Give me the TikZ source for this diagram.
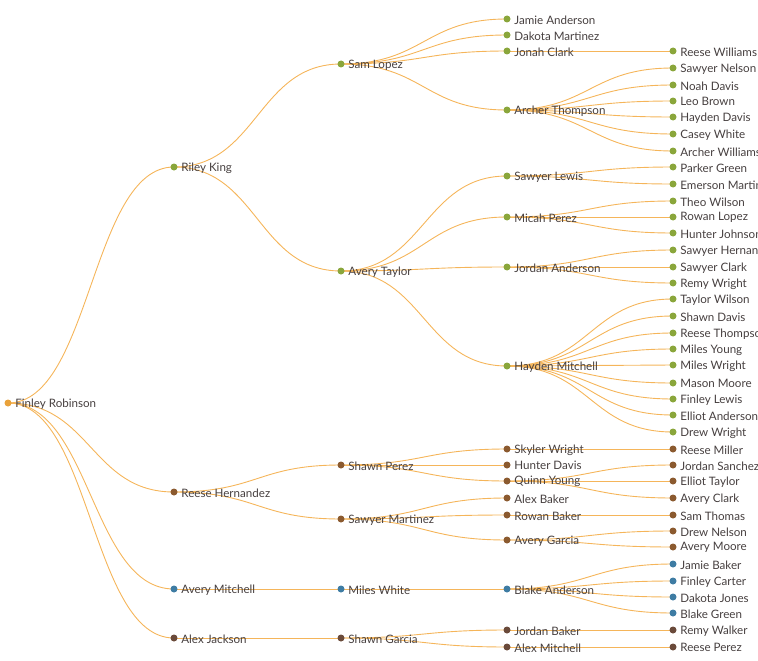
\documentclass[tikz,border=0pt]{standalone}
\usepackage{fontspec}
\setmainfont{Lato}
\usetikzlibrary{calc,backgrounds}

\definecolor{linkc}{HTML}{F5B55A}
\definecolor{rootc}{HTML}{E9A23B}
\definecolor{greenc}{HTML}{8AA63B}
\definecolor{brownc}{HTML}{8B5A2F}
\definecolor{bluec}{HTML}{3E7CA3}
\definecolor{darkc}{HTML}{6A4A3A}
\definecolor{textc}{HTML}{463F3F}

\tikzset{
  dot/.style={circle, fill=#1, inner sep=0pt, minimum size=7pt},
  lbl/.style={text=textc, font=\fontsize{11.6}{13}\selectfont, inner sep=1pt,
    label distance=2.5pt, yshift=-0.8pt},
  link/.style={draw=linkc, line width=0.9pt}
}

\begin{document}
\begin{tikzpicture}[x=1pt, y=-1pt]
\useasboundingbox (0,0) rectangle (758,661);

% Root
\node[dot=rootc, label={[lbl]right:Finley Robinson}] (FinleyRobinson) at (8,403) {};

% Level 1
\node[dot=greenc, label={[lbl]right:Riley King}] (RileyKing) at (174,167) {};
\node[dot=brownc, label={[lbl]right:Reese Hernandez}] (ReeseHernandez) at (174,492) {};
\node[dot=bluec, label={[lbl]right:Avery Mitchell}] (AveryMitchell) at (174,589) {};
\node[dot=darkc, label={[lbl]right:Alex Jackson}] (AlexJackson) at (174,638) {};

% Level 2
\node[dot=greenc, label={[lbl]right:Sam Lopez}] (SamLopez) at (341,64) {};
\node[dot=greenc, label={[lbl]right:Avery Taylor}] (AveryTaylor) at (341,271) {};
\node[dot=brownc, label={[lbl]right:Shawn Perez}] (ShawnPerez) at (341,465) {};
\node[dot=brownc, label={[lbl]right:Sawyer Martinez}] (SawyerMartinez) at (341,519) {};
\node[dot=bluec, label={[lbl]right:Miles White}] (MilesWhite) at (341,589) {};
\node[dot=darkc, label={[lbl]right:Shawn Garcia}] (ShawnGarcia) at (341,638) {};

% Level 3
\node[dot=greenc, label={[lbl]right:Jamie Anderson}] (JamieAnderson) at (507,19) {};
\node[dot=greenc, label={[lbl]right:Dakota Martinez}] (DakotaMartinez) at (507,35) {};
\node[dot=greenc, label={[lbl]right:Jonah Clark}] (JonahClark) at (507,51) {};
\node[dot=greenc, label={[lbl]right:Archer Thompson}] (ArcherThompson) at (507,110) {};
\node[dot=greenc, label={[lbl]right:Sawyer Lewis}] (SawyerLewis) at (507,176) {};
\node[dot=greenc, label={[lbl]right:Micah Perez}] (MicahPerez) at (507,217) {};
\node[dot=greenc, label={[lbl]right:Jordan Anderson}] (JordanAnderson) at (507,267) {};
\node[dot=greenc, label={[lbl]right:Hayden Mitchell}] (HaydenMitchell) at (507,366) {};
\node[dot=brownc, label={[lbl]right:Skyler Wright}] (SkylerWright) at (507,449) {};
\node[dot=brownc, label={[lbl]right:Hunter Davis}] (HunterDavis) at (507,465) {};
\node[dot=brownc, label={[lbl]right:Quinn Young}] (QuinnYoung) at (507,481) {};
\node[dot=brownc, label={[lbl]right:Alex Baker}] (AlexBaker) at (507,498) {};
\node[dot=brownc, label={[lbl]right:Rowan Baker}] (RowanBaker) at (507,515) {};
\node[dot=brownc, label={[lbl]right:Avery Garcia}] (AveryGarcia) at (507,540) {};
\node[dot=bluec, label={[lbl]right:Blake Anderson}] (BlakeAnderson) at (507,589) {};
\node[dot=darkc, label={[lbl]right:Jordan Baker}] (JordanBaker) at (507,630) {};
\node[dot=darkc, label={[lbl]right:Alex Mitchell}] (AlexMitchell) at (507,647) {};

% Level 4
\node[dot=greenc, label={[lbl]right:Reese Williams}] (ReeseWilliams) at (673,51) {};
\node[dot=greenc, label={[lbl]right:Sawyer Nelson}] (SawyerNelson) at (673,68) {};
\node[dot=greenc, label={[lbl]right:Noah Davis}] (NoahDavis) at (673,85) {};
\node[dot=greenc, label={[lbl]right:Leo Brown}] (LeoBrown) at (673,101) {};
\node[dot=greenc, label={[lbl]right:Hayden Davis}] (HaydenDavis) at (673,117) {};
\node[dot=greenc, label={[lbl]right:Casey White}] (CaseyWhite) at (673,134) {};
\node[dot=greenc, label={[lbl]right:Archer Williams}] (ArcherWilliams) at (673,151) {};
\node[dot=greenc, label={[lbl]right:Parker Green}] (ParkerGreen) at (673,167) {};
\node[dot=greenc, label={[lbl]right:Emerson Martin}] (EmersonMartin) at (673,184) {};
\node[dot=greenc, label={[lbl]right:Theo Wilson}] (TheoWilson) at (673,201) {};
\node[dot=greenc, label={[lbl]right:Rowan Lopez}] (RowanLopez) at (673,217) {};
\node[dot=greenc, label={[lbl]right:Hunter Johnson}] (HunterJohnson) at (673,233) {};
\node[dot=greenc, label={[lbl]right:Sawyer Hernandez}] (SawyerHernandez) at (673,250) {};
\node[dot=greenc, label={[lbl]right:Sawyer Clark}] (SawyerClark) at (673,267) {};
\node[dot=greenc, label={[lbl]right:Remy Wright}] (RemyWright) at (673,283) {};
\node[dot=greenc, label={[lbl]right:Taylor Wilson}] (TaylorWilson) at (673,299) {};
\node[dot=greenc, label={[lbl]right:Shawn Davis}] (ShawnDavis) at (673,316) {};
\node[dot=greenc, label={[lbl]right:Reese Thompson}] (ReeseThompson) at (673,333) {};
\node[dot=greenc, label={[lbl]right:Miles Young}] (MilesYoung) at (673,349) {};
\node[dot=greenc, label={[lbl]right:Miles Wright}] (MilesWright) at (673,365) {};
\node[dot=greenc, label={[lbl]right:Mason Moore}] (MasonMoore) at (673,383) {};
\node[dot=greenc, label={[lbl]right:Finley Lewis}] (FinleyLewis) at (673,399) {};
\node[dot=greenc, label={[lbl]right:Elliot Anderson}] (ElliotAnderson) at (673,415) {};
\node[dot=greenc, label={[lbl]right:Drew Wright}] (DrewWright) at (673,432) {};
\node[dot=brownc, label={[lbl]right:Reese Miller}] (ReeseMiller) at (673,449) {};
\node[dot=brownc, label={[lbl]right:Jordan Sanchez}] (JordanSanchez) at (673,465) {};
\node[dot=brownc, label={[lbl]right:Elliot Taylor}] (ElliotTaylor) at (673,481) {};
\node[dot=brownc, label={[lbl]right:Avery Clark}] (AveryClark) at (673,498) {};
\node[dot=brownc, label={[lbl]right:Sam Thomas}] (SamThomas) at (673,515) {};
\node[dot=brownc, label={[lbl]right:Drew Nelson}] (DrewNelson) at (673,531) {};
\node[dot=brownc, label={[lbl]right:Avery Moore}] (AveryMoore) at (673,547) {};
\node[dot=bluec, label={[lbl]right:Jamie Baker}] (JamieBaker) at (673,564) {};
\node[dot=bluec, label={[lbl]right:Finley Carter}] (FinleyCarter) at (673,581) {};
\node[dot=bluec, label={[lbl]right:Dakota Jones}] (DakotaJones) at (673,597) {};
\node[dot=bluec, label={[lbl]right:Blake Green}] (BlakeGreen) at (673,613) {};
\node[dot=darkc, label={[lbl]right:Remy Walker}] (RemyWalker) at (673,630) {};
\node[dot=darkc, label={[lbl]right:Reese Perez}] (ReesePerez) at (673,647) {};

% Links
\begin{scope}[on background layer]
\foreach \p/\c in {
  FinleyRobinson/RileyKing, FinleyRobinson/ReeseHernandez,
  FinleyRobinson/AveryMitchell, FinleyRobinson/AlexJackson,
  RileyKing/SamLopez, RileyKing/AveryTaylor,
  ReeseHernandez/ShawnPerez, ReeseHernandez/SawyerMartinez,
  AveryMitchell/MilesWhite, AlexJackson/ShawnGarcia,
  SamLopez/JamieAnderson, SamLopez/DakotaMartinez,
  SamLopez/JonahClark, SamLopez/ArcherThompson,
  AveryTaylor/SawyerLewis, AveryTaylor/MicahPerez,
  AveryTaylor/JordanAnderson, AveryTaylor/HaydenMitchell,
  ShawnPerez/SkylerWright, ShawnPerez/HunterDavis, ShawnPerez/QuinnYoung,
  SawyerMartinez/AlexBaker, SawyerMartinez/RowanBaker, SawyerMartinez/AveryGarcia,
  MilesWhite/BlakeAnderson,
  ShawnGarcia/JordanBaker, ShawnGarcia/AlexMitchell,
  JonahClark/ReeseWilliams,
  ArcherThompson/SawyerNelson, ArcherThompson/NoahDavis, ArcherThompson/LeoBrown,
  ArcherThompson/HaydenDavis, ArcherThompson/CaseyWhite, ArcherThompson/ArcherWilliams,
  SawyerLewis/ParkerGreen, SawyerLewis/EmersonMartin,
  MicahPerez/TheoWilson, MicahPerez/RowanLopez, MicahPerez/HunterJohnson,
  JordanAnderson/SawyerHernandez, JordanAnderson/SawyerClark, JordanAnderson/RemyWright,
  HaydenMitchell/TaylorWilson, HaydenMitchell/ShawnDavis, HaydenMitchell/ReeseThompson,
  HaydenMitchell/MilesYoung, HaydenMitchell/MilesWright, HaydenMitchell/MasonMoore,
  HaydenMitchell/FinleyLewis, HaydenMitchell/ElliotAnderson, HaydenMitchell/DrewWright,
  SkylerWright/ReeseMiller,
  QuinnYoung/JordanSanchez, QuinnYoung/ElliotTaylor, QuinnYoung/AveryClark,
  RowanBaker/SamThomas,
  AveryGarcia/DrewNelson, AveryGarcia/AveryMoore,
  BlakeAnderson/JamieBaker, BlakeAnderson/FinleyCarter,
  BlakeAnderson/DakotaJones, BlakeAnderson/BlakeGreen,
  JordanBaker/RemyWalker, AlexMitchell/ReesePerez}
{
  \coordinate (m) at ($(\p)!0.5!(\c)$);
  \draw[link] (\p.center) .. controls (m |- \p) and (m |- \c) .. (\c.center);
}
\end{scope}
\end{tikzpicture}
\end{document}
